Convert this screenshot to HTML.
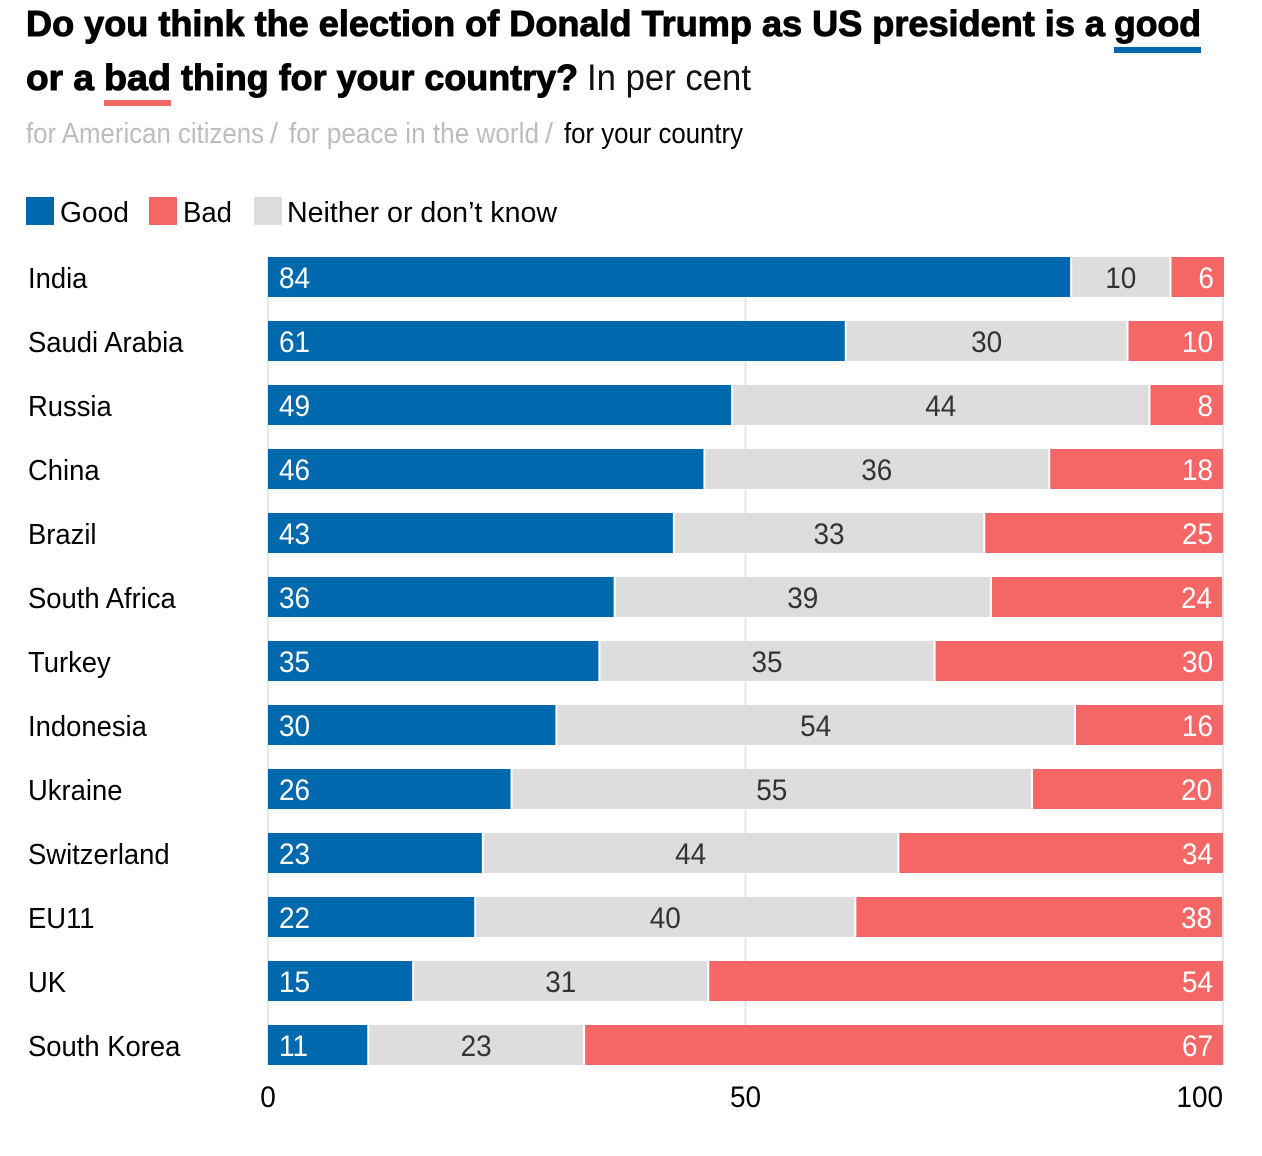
<!DOCTYPE html>
<html lang="en">
<head>
<meta charset="utf-8">
<title>Election of Donald Trump: good or bad for your country</title>
<style>
html,body{margin:0;padding:0;background:#fff;}
svg{display:block;font-family:"Liberation Sans",sans-serif;}
.title-bold{font-weight:700;font-size:36px;fill:#000;stroke:#000;stroke-width:1px;stroke-linejoin:round;}
.title-reg{font-size:37px;fill:#111;}
.sub{font-size:29px;}
.lab{font-size:29px;fill:#000;}
.val{font-size:30px;}
</style>
</head>
<body>
<svg id="chart" width="1262" height="1156" viewBox="0 0 1262 1156" xmlns="http://www.w3.org/2000/svg">
  <g>
    <text class="title-bold" x="26" y="36" textLength="1079" lengthAdjust="spacingAndGlyphs">Do you think the election of Donald Trump as US president is a</text>
    <text class="title-bold" x="1114" y="36" textLength="87" lengthAdjust="spacingAndGlyphs">good</text>
    <rect x="1114" y="47" width="87" height="6" fill="#0069AE"></rect>
    <text class="title-bold" x="26" y="90" textLength="68" lengthAdjust="spacingAndGlyphs">or a</text>
    <text class="title-bold" x="104" y="90" textLength="67" lengthAdjust="spacingAndGlyphs">bad</text>
    <rect x="104" y="100" width="67" height="6" fill="#F46766"></rect>
    <text class="title-bold" x="181" y="90" textLength="397" lengthAdjust="spacingAndGlyphs">thing for your country?</text>
    <text class="title-reg" x="587" y="90" textLength="164" lengthAdjust="spacingAndGlyphs">In per cent</text>
  </g>
  <g>
    <text class="sub" x="26" y="143" fill="#BDBDBD" textLength="238" lengthAdjust="spacingAndGlyphs">for American citizens</text>
    <text class="sub" x="270" y="143" fill="#BDBDBD">/</text>
    <text class="sub" x="289" y="143" fill="#BDBDBD" textLength="250" lengthAdjust="spacingAndGlyphs">for peace in the world</text>
    <text class="sub" x="545" y="143" fill="#BDBDBD">/</text>
    <text class="sub" x="564" y="143" fill="#000" textLength="179" lengthAdjust="spacingAndGlyphs">for your country</text>
  </g>
  <g>
    <g>
      <rect x="26" y="197" width="28" height="28" fill="#0069AE"></rect>
      <text class="lab" x="60" y="222" textLength="69" lengthAdjust="spacingAndGlyphs">Good</text>
    </g>
    <g>
      <rect x="149" y="197" width="28" height="28" fill="#F46766"></rect>
      <text class="lab" x="183" y="222" textLength="49" lengthAdjust="spacingAndGlyphs">Bad</text>
    </g>
    <g>
      <rect x="254" y="197" width="28" height="28" fill="#DDDDDD"></rect>
      <text class="lab" x="287" y="222" textLength="270" lengthAdjust="spacingAndGlyphs">Neither or don’t know</text>
    </g>
  </g>
  <g id="grid"></g>
  <g id="bars"></g>
  <g id="xaxis"></g>
</svg>
<script>
const categories = ["India","Saudi Arabia","Russia","China","Brazil","South Africa","Turkey","Indonesia","Ukraine","Switzerland","EU11","UK","South Korea"];
const goodValues = [84.1,60.5,48.6,45.7,42.5,36.3,34.7,30.2,25.5,22.5,21.7,15.2,10.5];
const neitherValues = [10.4,29.5,43.7,36.1,32.5,39.4,35.1,54.3,54.5,43.5,39.8,30.9,22.6];
const badValues = [5.6,10.0,7.7,18.2,25.0,24.2,30.2,15.5,19.9,34.0,38.4,53.9,66.9];
const tickValues = [0,50,100];

const NS = "http://www.w3.org/2000/svg";
const PLOT_LEFT = 268, PLOT_RIGHT = 1223, ROW_TOP = 257, ROW_STEP = 64, BAR_H = 40;
const TEXT_SQUEEZE = 0.93, LABEL_SQUEEZE = 0.945;
function xScale(v){ return PLOT_LEFT + (PLOT_RIGHT - PLOT_LEFT) * v / 100; }
function yScale(i){ return ROW_TOP + ROW_STEP * i; }
function slug(s){ return s.toLowerCase().replace(/[^a-z0-9]+/g,'-'); }
function squeeze(el, factor){
  el.setAttribute('lengthAdjust', 'spacingAndGlyphs');
  el.setAttribute('textLength', el.getComputedTextLength() * factor);
}

const gridG = document.getElementById('grid');
const barsG = document.getElementById('bars');
const axisG = document.getElementById('xaxis');
const plotBottom = yScale(categories.length - 1) + BAR_H;

tickValues.forEach(function(t){
  const line = document.createElementNS(NS,'rect');
  
  
  line.setAttribute('x', xScale(t) - 1);
  line.setAttribute('y', ROW_TOP);
  line.setAttribute('width', 2);
  line.setAttribute('height', plotBottom - ROW_TOP);
  line.setAttribute('fill', '#E5E5E5');
  gridG.appendChild(line);

  const label = document.createElementNS(NS,'text');
  
  
  label.setAttribute('class', 'val');
  label.setAttribute('fill', '#000');
  label.setAttribute('x', xScale(t));
  label.setAttribute('y', 1107);
  label.setAttribute('text-anchor', t === 100 ? 'end' : 'middle');
  label.textContent = String(t);
  axisG.appendChild(label);
  squeeze(label, TEXT_SQUEEZE);
});

function drawSegment(row, seriesName, start, value, fill, textFill, align){
  const x0 = xScale(start) + (start > 0 ? 1 : 0);
  const x1 = xScale(start + value) - (align === 'end' ? 0 : 1);
  const y = yScale(row);
  const rect = document.createElementNS(NS,'rect');
  
  
  rect.setAttribute('x', x0);
  rect.setAttribute('y', y);
  rect.setAttribute('width', Math.max(0, x1 - x0));
  rect.setAttribute('height', BAR_H);
  rect.setAttribute('fill', fill);
  barsG.appendChild(rect);

  const txt = document.createElementNS(NS,'text');
  
  
  txt.setAttribute('class', 'val');
  txt.setAttribute('fill', textFill);
  txt.setAttribute('y', y + 31);
  if (align === 'start') {
    txt.setAttribute('x', x0 + 11);
    txt.setAttribute('text-anchor', 'start');
  } else if (align === 'end') {
    txt.setAttribute('x', x1 - 10);
    txt.setAttribute('text-anchor', 'end');
  } else {
    txt.setAttribute('x', (x0 + x1) / 2);
    txt.setAttribute('text-anchor', 'middle');
  }
  txt.textContent = String(Math.round(value));
  barsG.appendChild(txt);
  squeeze(txt, TEXT_SQUEEZE);
}

categories.forEach(function(name, i){
  const lab = document.createElementNS(NS,'text');
  
  
  lab.setAttribute('class', 'lab');
  lab.setAttribute('x', 28);
  lab.setAttribute('y', yScale(i) + 31);
  lab.textContent = name;
  barsG.appendChild(lab);
  squeeze(lab, LABEL_SQUEEZE);

  drawSegment(i, 'good', 0, goodValues[i], '#0069AE', '#FFFFFF', 'start');
  drawSegment(i, 'neither', goodValues[i], neitherValues[i], '#DDDDDD', '#333333', 'middle');
  drawSegment(i, 'bad', goodValues[i] + neitherValues[i], badValues[i], '#F46766', '#FFFFFF', 'end');
});
</script>
</body>
</html>
